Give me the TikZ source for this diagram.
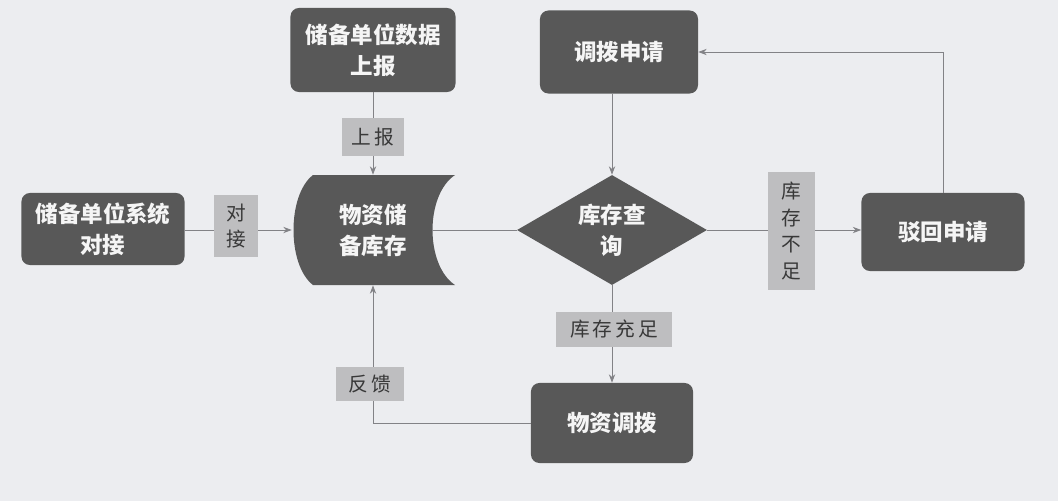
\documentclass[tikz,border=0pt]{standalone}
\usepackage{fontspec}
\newfontfamily\cjk{Noto Sans CJK SC}
\newfontfamily\cjktag[LetterSpace=15]{Noto Sans CJK SC}
\usetikzlibrary{shapes.geometric,arrows.meta}
\definecolor{bgc}{RGB}{236,237,240}
\definecolor{boxc}{RGB}{88,88,88}
\definecolor{tagc}{RGB}{190,190,192}
\definecolor{linec}{RGB}{130,130,134}
\tikzset{
  box/.style={rectangle, rounded corners=6pt, fill=boxc, text=white!92!gray,
    font=\cjk\bfseries\fontsize{16}{22}\selectfont, align=center, inner sep=0pt},
  tag/.style={rectangle, fill=tagc, text=black!78, align=center, inner sep=0pt,
    font=\cjktag\fontsize{14}{19}\selectfont},
  link/.style={draw=linec, line width=0.6pt, -{Stealth[length=6pt,width=4.5pt]}},
  plain/.style={draw=linec, line width=0.6pt}
}
\begin{document}
\begin{tikzpicture}[x=0.025cm,y=-0.025cm]
  \fill[bgc] (0,0) rectangle (1058,501);
  \useasboundingbox (0,0) rectangle (1058,501);

  \node[box, minimum width=4.075cm, minimum height=1.8cm] (0) at (103,229) {储备单位系统\\对接};

  \node[box, minimum width=4.125cm, minimum height=2.1cm] (1) at (373,50) {储备单位数据\\上报};

  % storage shape
  \fill[boxc] (313,175) -- (455,175) .. controls (425,195) and (425,265) .. (455,285)
    -- (313,285) .. controls (287,265) and (287,195) .. (313,175);
  \node[box, fill=none, minimum width=4.05cm, minimum height=2.75cm] (2) at (373,230) {物资储\\备库存};
  \coordinate (2r) at (432,230);

  \node[box, minimum width=3.95cm, minimum height=2.075cm] (3) at (619,52) {调拨申请};

  \node[box, diamond, rounded corners=0pt, aspect=1.7, minimum width=4.75cm, minimum height=2.75cm] (4) at (612,230) {库存查\\询};

  \node[box, minimum width=4.075cm, minimum height=1.95cm] (5) at (943,232) {驳回申请};

  \node[box, minimum width=4.05cm, minimum height=2cm] (6) at (612,423) {物资调拨};

  \draw[link] (0.east |- 2) -- (2.west);
  \draw[link] (1) -- (2);
  \draw[plain] (2r) -- (4);
  \draw[link] (4 |- 3.south) -- (4.north);
  \draw[link] (4.east) -- (4.east -| 5.west);
  \draw[link] (5.north) |- (3.east);
  \draw[link] (4) -- (6);
  \draw[link] (6.west) -| (2.south);

  \node[tag, minimum width=1.1cm, minimum height=1.55cm] (a) at (236,226) {对\\接};
  \node[tag, minimum width=1.525cm, minimum height=0.925cm] (b) at (373,137) {上报};
  \node[tag, minimum width=1.175cm, minimum height=2.95cm] (c) at (791,231) {库\\存\\不\\足};
  \node[tag, minimum width=2.875cm, minimum height=0.875cm] (d) at (614,329) {库存充足};
  \node[tag, minimum width=1.675cm, minimum height=0.85cm] (e) at (370,384) {反馈};
\end{tikzpicture}
\end{document}
